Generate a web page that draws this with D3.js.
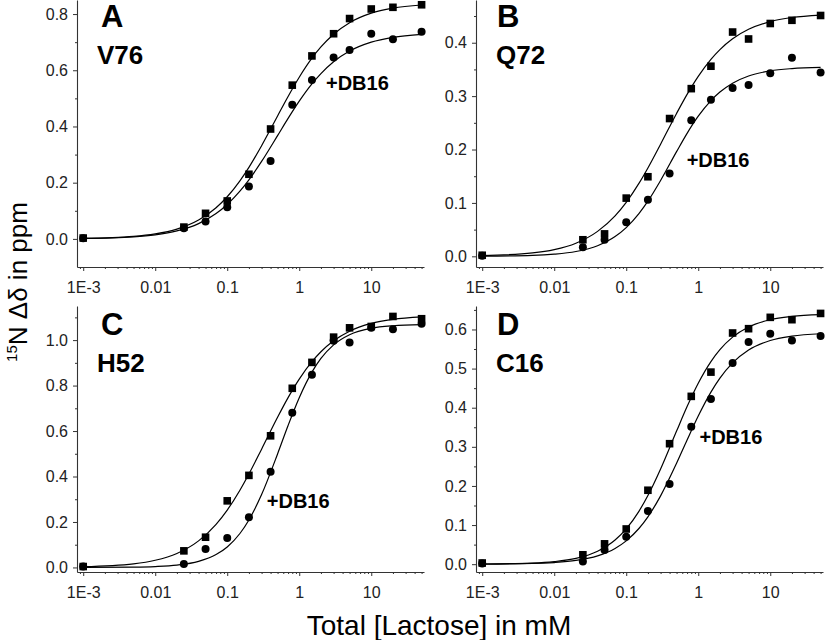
<!DOCTYPE html>
<html><head><meta charset="utf-8">
<script src="https://cdn.jsdelivr.net/npm/d3@7"></script>
<style>body{margin:0;background:#fff} svg{display:block}</style>
</head><body>
<svg id="chart" width="827" height="640"></svg>
<script>
// ---- data ----
const concentrations = [0.001, 0.025, 0.05, 0.1, 0.2, 0.4, 0.8, 1.5, 3, 5, 10, 20, 50];

const v76Free  = [0.003, 0.042, 0.091, 0.135, 0.230, 0.391, 0.547, 0.651, 0.730, 0.784, 0.818, 0.824, 0.833];
const v76DB16  = [0.002, 0.038, 0.062, 0.113, 0.186, 0.277, 0.477, 0.565, 0.645, 0.672, 0.730, 0.710, 0.737];
const q72Free  = [0.002, 0.031, 0.042, 0.109, 0.149, 0.258, 0.314, 0.356, 0.420, 0.407, 0.436, 0.442, 0.451];
const q72DB16  = [0.001, 0.017, 0.031, 0.064, 0.106, 0.155, 0.255, 0.293, 0.315, 0.321, 0.343, 0.372, 0.344];
const h52Free  = [0.004, 0.073, 0.133, 0.293, 0.405, 0.579, 0.788, 0.902, 1.013, 1.054, 1.060, 1.104, 1.094];
const h52DB16  = [0.004, 0.015, 0.081, 0.129, 0.221, 0.421, 0.680, 0.848, 0.997, 0.990, 1.054, 1.048, 1.072];
const c16Free  = [0.003, 0.024, 0.052, 0.090, 0.189, 0.308, 0.429, 0.491, 0.591, 0.602, 0.631, 0.625, 0.641];
const c16DB16  = [0.002, 0.007, 0.036, 0.070, 0.136, 0.205, 0.351, 0.422, 0.514, 0.568, 0.589, 0.572, 0.583];

// fitted curves, read at these concentrations
const fitConc = [0.001, 0.005, 0.01, 0.02, 0.04, 0.07, 0.1, 0.15, 0.2, 0.3, 0.5, 0.7, 1, 1.5, 2, 3, 5, 10, 20, 50];
const v76FreeFit = [0.0018, 0.009, 0.0179, 0.035, 0.0672, 0.111, 0.150, 0.2066, 0.2545, 0.3316, 0.4375, 0.5069, 0.5753, 0.6429, 0.6829, 0.7283, 0.7692, 0.8031, 0.8211, 0.8323];
const v76DB16Fit = [0.0015, 0.0073, 0.0144, 0.0283, 0.0544, 0.0903, 0.1225, 0.1696, 0.21, 0.2756, 0.3675, 0.4288, 0.49, 0.5513, 0.588, 0.63, 0.6682, 0.70, 0.7171, 0.7277];
const q72FreeFit = [0.0013, 0.0064, 0.0126, 0.0246, 0.0467, 0.0758, 0.1011, 0.1365, 0.1655, 0.21, 0.2676, 0.3033, 0.337, 0.3689, 0.3872, 0.4075, 0.4252, 0.4396, 0.4472, 0.4518];
const q72DB16Fit = [0.0003, 0.0017, 0.004, 0.009, 0.0199, 0.037, 0.0538, 0.08, 0.1033, 0.1421, 0.196, 0.2303, 0.2624, 0.2917, 0.3077, 0.3243, 0.3377, 0.3473, 0.3516, 0.3539];
const h52FreeFit = [0.0033, 0.0161, 0.0317, 0.0617, 0.1168, 0.1895, 0.2523, 0.3398, 0.4111, 0.5203, 0.6607, 0.7471, 0.8284, 0.9049, 0.9487, 0.997, 1.0393, 1.0735, 1.0914, 1.1025];
const h52DB16Fit = [0.0002, 0.0015, 0.0039, 0.0102, 0.0266, 0.0566, 0.0901, 0.1493, 0.2089, 0.3207, 0.4994, 0.6245, 0.7466, 0.8591, 0.9192, 0.979, 1.0234, 1.0519, 1.0631, 1.0681];
const c16FreeFit = [0.0004, 0.0029, 0.0066, 0.0149, 0.0332, 0.062, 0.0904, 0.1351, 0.1755, 0.2436, 0.3402, 0.4029, 0.4626, 0.5179, 0.5484, 0.5804, 0.6063, 0.6249, 0.6333, 0.6378];
const c16DB16Fit = [0.0003, 0.0018, 0.0042, 0.0095, 0.0213, 0.0403, 0.0596, 0.0912, 0.1211, 0.1747, 0.258, 0.3175, 0.3786, 0.4397, 0.4754, 0.5144, 0.5473, 0.5717, 0.583, 0.589];

const panelLetters = ["A", "B", "C", "D"];
const residueNames = ["V76", "Q72", "H52", "C16"];
const annotationText = "+DB16";
const annotationPos = [[2.35, 0.53], [0.69, 0.168], [0.354, 0.26], [1.04, 0.307]];

const xTickValues = [0.001, 0.01, 0.1, 1, 10];
const xTickLabels = ["1E-3", "0.01", "0.1", "1", "10"];
const yTicksA = [0, 0.2, 0.4, 0.6, 0.8], yMinorA = [0.1, 0.3, 0.5, 0.7];
const yTicksB = [0, 0.1, 0.2, 0.3, 0.4], yMinorB = [0.05, 0.15, 0.25, 0.35, 0.45];
const yTicksC = [0, 0.2, 0.4, 0.6, 0.8, 1.0], yMinorC = [0.1, 0.3, 0.5, 0.7, 0.9, 1.1];
const yTicksD = [0, 0.1, 0.2, 0.3, 0.4, 0.5, 0.6], yMinorD = [0.05, 0.15, 0.25, 0.35, 0.45, 0.55, 0.65];

const xLabel = "Total [Lactose] in mM";

// ---- layout ----
const xDomain = [0.00082, 54];
const colLeft = [77, 476], colWidth = 347;
const rowTop = [0, 306], rowBottom = [267, 572];
const panels = [
  {free: v76Free, bound: v76DB16, freeFit: v76FreeFit, boundFit: v76DB16Fit, yDomain: [-0.1, 0.85], yTicks: yTicksA, yMinor: yMinorA, col: 0, row: 0},
  {free: q72Free, bound: q72DB16, freeFit: q72FreeFit, boundFit: q72DB16Fit, yDomain: [-0.02, 0.48], yTicks: yTicksB, yMinor: yMinorB, col: 1, row: 0},
  {free: h52Free, bound: h52DB16, freeFit: h52FreeFit, boundFit: h52DB16Fit, yDomain: [-0.02, 1.15], yTicks: yTicksC, yMinor: yMinorC, col: 0, row: 1},
  {free: c16Free, bound: c16DB16, freeFit: c16FreeFit, boundFit: c16DB16Fit, yDomain: [-0.02, 0.66], yTicks: yTicksD, yMinor: yMinorD, col: 1, row: 1}
];

const svg = d3.select("#chart");
const font = "'Liberation Sans', Arial, sans-serif";

panels.forEach((p, i) => {
  const x = d3.scaleLog().domain(xDomain).range([colLeft[p.col], colLeft[p.col] + colWidth]);
  const y = d3.scaleLinear().domain(p.yDomain).range([rowBottom[p.row], rowTop[p.row]]);
  const g = svg.append("g");

  // x axis
  const minorX = x.ticks().filter(v => !xTickValues.some(t => Math.abs(t - v) / t < 1e-6));
  const gx = g.append("g").attr("transform", `translate(0,${rowBottom[p.row]})`)
    .call(d3.axisBottom(x).tickValues(xTickValues).tickFormat((d, k) => xTickLabels[k]).tickSize(4).tickSizeOuter(0).tickPadding(8));
  g.append("g").attr("transform", `translate(0,${rowBottom[p.row]})`)
    .call(d3.axisBottom(x).tickValues(minorX).tickFormat("").tickSize(2).tickSizeOuter(0))
    .call(s => s.select(".domain").remove());

  // y axis
  const gy = g.append("g").attr("transform", `translate(${colLeft[p.col]},0)`)
    .call(d3.axisLeft(y).tickValues(p.yTicks).tickFormat(d3.format(".1f")).tickSize(4).tickSizeOuter(0).tickPadding(5));
  g.append("g").attr("transform", `translate(${colLeft[p.col]},0)`)
    .call(d3.axisLeft(y).tickValues(p.yMinor).tickFormat("").tickSize(2).tickSizeOuter(0))
    .call(s => s.select(".domain").remove());

  g.selectAll(".domain").attr("stroke", "#333").attr("stroke-width", 1.1);
  g.selectAll(".tick line").attr("stroke", "#333");
  g.selectAll(".tick text").attr("font-family", font).attr("font-size", 16).attr("fill", "#222");
  gx.selectAll(".tick text").attr("dy", "0.9em");

  // fit curves
  const line = d3.line().x((d, k) => x(fitConc[k])).y(d => y(d)).curve(d3.curveMonotoneX);
  [p.freeFit, p.boundFit].forEach(f => {
    g.append("path").datum(f).attr("d", line).attr("fill", "none").attr("stroke", "#000").attr("stroke-width", 1.2);
  });

  // markers
  const s = 7.6;
  g.selectAll("rect.sq").data(p.free).join("rect").attr("class", "sq")
    .attr("x", (d, k) => x(concentrations[k]) - s / 2).attr("y", d => y(d) - s / 2)
    .attr("width", s).attr("height", s).attr("fill", "#000");
  g.selectAll("circle.ci").data(p.bound).join("circle").attr("class", "ci")
    .attr("cx", (d, k) => x(concentrations[k])).attr("cy", d => y(d)).attr("r", 4).attr("fill", "#000");

  // labels
  g.append("text").attr("x", colLeft[p.col] + (p.col ? 21 : 24)).attr("y", rowTop[p.row] + (p.row ? 29 : 27))
    .attr("font-family", font).attr("font-weight", "bold").attr("font-size", 31).attr("fill", "#000")
    .text(panelLetters[i]);
  g.append("text").attr("x", colLeft[p.col] + 20).attr("y", rowTop[p.row] + (p.row ? 66 : 64))
    .attr("font-family", font).attr("font-weight", "bold").attr("font-size", 26).attr("fill", "#000")
    .text(residueNames[i]);
  g.append("text").attr("x", x(annotationPos[i][0])).attr("y", y(annotationPos[i][1]))
    .attr("font-family", font).attr("font-weight", "bold").attr("font-size", 20).attr("fill", "#000")
    .text(annotationText);
});

// axis titles
svg.append("text").attr("x", 439).attr("y", 635).attr("text-anchor", "middle")
  .attr("font-family", font).attr("font-size", 28).attr("fill", "#000").text(xLabel);

const yl = svg.append("text").attr("transform", "translate(27,282) rotate(-90)").attr("text-anchor", "middle")
  .attr("font-family", font).attr("font-size", 26).attr("fill", "#000");
yl.append("tspan").attr("font-size", 15).attr("dy", -10).text("15");
yl.append("tspan").attr("dy", 10).text("N \u0394\u03b4 in ppm");
</script>
</body></html>
